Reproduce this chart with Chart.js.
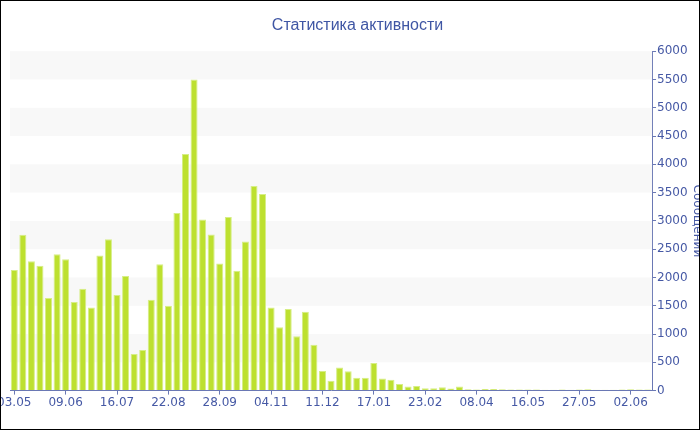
<!DOCTYPE html>
<html lang="ru">
<head>
  <meta charset="UTF-8" />
  <title>Статистика активности</title>
  <script src="https://cdn.jsdelivr.net/npm/chart.js"></script>
  <style>
    * { box-sizing: border-box; }
    body { margin: 0; background: #fff; }
    .wrap {
      width: 700px;
      height: 430px;
      border: 1px solid #000;
      overflow: hidden;
    }
    canvas { display: block; }
  </style>
</head>
<body>
  <div class="wrap">
    <canvas id="grafico" width="698" height="428"></canvas>
  </div>

  <script>
    // подписи оси X (каждый 6-й столбец)
    const tickLabels = ['03.05', '09.06', '16.07', '22.08', '28.09', '04.11', '11.12',
                        '17.01', '23.02', '08.04', '16.05', '27.05', '02.06'];
    const tickStep = 6;

    // количество сообщений по периодам
    const messages = [
      2130, 2753, 2288, 2206, 1635, 2412, 2324, 1565, 1800, 1471,
      2388, 2676, 1688, 2024, 647, 718, 1606, 2235, 1500, 3141,
      4182, 5500, 3024, 2759, 2247, 3071, 2118, 2635, 3618, 3476,
      1471, 1118, 1441, 959, 1394, 812, 347, 176, 410, 340,
      229, 229, 488, 212, 194, 118, 71, 82, 41, 40,
      59, 35, 71, 23, 20, 30, 30, 25, 20, 20,
      18, 18, 15, 15, 20, 15, 18, 25, 15, 15,
      15, 20, 25, 18, 20
    ];

    const categories = messages.map((_, i) => i % tickStep === 0 ? tickLabels[i / tickStep] : '');

    const blue = '#4659a5';
    const axisBlue = '#6a78b4';

    // полосы на фоне
    const bands = {
      id: 'bands',
      beforeDatasetsDraw(chart) {
        const { ctx, chartArea, scales } = chart;
        const y = scales.y;
        ctx.save();
        ctx.fillStyle = '#f8f8f8';
        for (let v = 500; v < 6000; v += 1000) {
          const top = y.getPixelForValue(v + 500);
          const bottom = y.getPixelForValue(v);
          ctx.fillRect(chartArea.left, top, chartArea.right - chartArea.left, bottom - top);
        }
        ctx.restore();
      }
    };

    new Chart(document.getElementById('grafico'), {
      type: 'bar',
      data: {
        labels: categories,
        datasets: [{
          label: 'Сообщений',
          data: messages,
          backgroundColor: '#bde02f',
          borderColor: '#d6ee86',
          borderWidth: 1,
          barPercentage: 0.82,
          categoryPercentage: 1
        }]
      },
      options: {
        responsive: false,
        animation: false,
        layout: { padding: { left: 9, right: -6, top: 0, bottom: 18 } },
        plugins: {
          legend: { display: false },
          tooltip: { enabled: false },
          title: {
            display: true,
            text: 'Статистика активности',
            color: '#3f56a4',
            font: { family: 'Liberation Sans', size: 16, weight: 'normal' },
            padding: { top: 15, bottom: 16 }
          }
        },
        scales: {
          x: {
            afterFit(scale) { scale.paddingLeft = 0; scale.paddingRight = 0; },
            grid: {
              offset: false,
              drawOnChartArea: false,
              tickLength: 4,
              color: ctx => ctx.index % tickStep === 0 ? axisBlue : 'transparent'
            },
            border: { color: axisBlue },
            ticks: {
              autoSkip: false,
              maxRotation: 0,
              color: blue,
              padding: 1,
              font: { family: 'DejaVu Sans', size: 12 }
            }
          },
          y: {
            position: 'right',
            min: 0,
            max: 6000,
            grid: { drawOnChartArea: false, tickLength: 4, color: axisBlue },
            border: { color: axisBlue },
            ticks: {
              stepSize: 250,
              color: blue,
              padding: 1,
              font: { family: 'DejaVu Sans', size: 12 },
              callback: v => v % 500 === 0 ? v : ''
            },
            title: {
              display: true,
              text: 'Сообщений',
              color: blue,
              font: { family: 'DejaVu Sans', size: 12 },
              padding: 1
            }
          }
        }
      },
      plugins: [bands]
    });
  </script>
</body>
</html>
